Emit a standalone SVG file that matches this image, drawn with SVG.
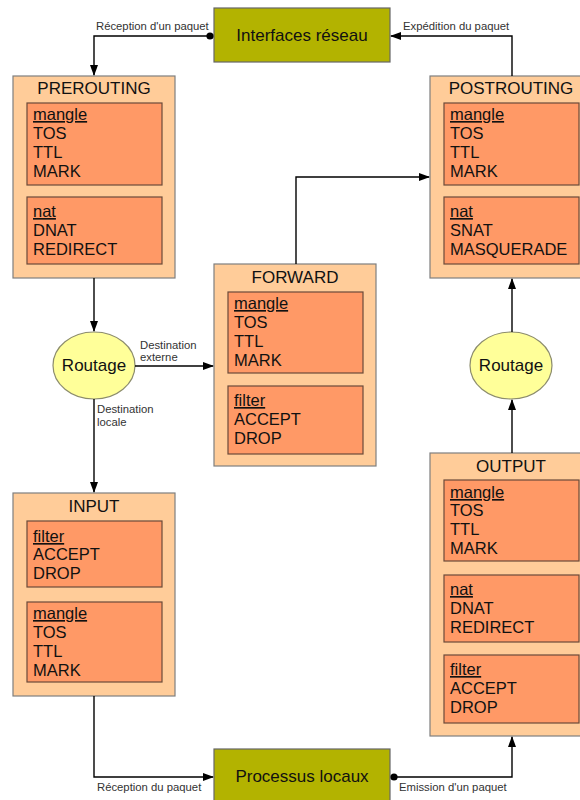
<svg xmlns="http://www.w3.org/2000/svg" width="580" height="800" viewBox="0 0 580 800">
<defs>
<marker id="arr" markerWidth="11" markerHeight="8" refX="10" refY="4" orient="auto" markerUnits="userSpaceOnUse">
<path d="M0,0 L11,4 L0,8 z" fill="#000"/>
</marker>
<marker id="dot" markerWidth="8" markerHeight="8" refX="4" refY="4" markerUnits="userSpaceOnUse">
<circle cx="4" cy="4" r="3.6" fill="#000"/>
</marker>
<style>
.chain{fill:#ffcc99;stroke:#7f7f7f;stroke-width:1.2}
.table{fill:#ff9966;stroke:#6b4a3a;stroke-width:1.2}
.io{fill:#b3b300;stroke:#666;stroke-width:1.2}
.rt{fill:#ffff99;stroke:#8c8c6c;stroke-width:1.2}
text{font-family:"Liberation Sans",Arial,sans-serif;fill:#111}
.t{font-size:17px;text-anchor:middle}
.c{font-size:16.5px}
.h{text-decoration:underline}
.lbl{font-size:11.3px;fill:#333}
.con{fill:none;stroke:#000;stroke-width:1.4}
</style>
</defs>
<g id="interfaces">
<rect class="io" x="214" y="8" width="176" height="54"/>
<text class="t" x="302" y="41">Interfaces réseau</text>
</g>
<g id="processus">
<rect class="io" x="214" y="749" width="176" height="56"/>
<text class="t" x="302" y="782">Processus locaux</text>
</g>
<g id="prerouting">
<rect class="chain" x="13" y="76" width="162" height="202"/>
<text class="t" x="94" y="94">PREROUTING</text>
<rect class="table" x="27" y="103" width="135" height="82"/>
<text class="c h" x="33" y="120">mangle</text>
<text class="c" x="33" y="139">TOS</text>
<text class="c" x="33" y="158">TTL</text>
<text class="c" x="33" y="177">MARK</text>
<rect class="table" x="27" y="197" width="135" height="67"/>
<text class="c h" x="33" y="217">nat</text>
<text class="c" x="33" y="236">DNAT</text>
<text class="c" x="33" y="255">REDIRECT</text>
</g>
<g id="postrouting">
<rect class="chain" x="430" y="76" width="162" height="202"/>
<text class="t" x="511" y="94">POSTROUTING</text>
<rect class="table" x="444" y="103" width="135" height="82"/>
<text class="c h" x="450" y="120">mangle</text>
<text class="c" x="450" y="139">TOS</text>
<text class="c" x="450" y="158">TTL</text>
<text class="c" x="450" y="177">MARK</text>
<rect class="table" x="444" y="197" width="135" height="67"/>
<text class="c h" x="450" y="217">nat</text>
<text class="c" x="450" y="236">SNAT</text>
<text class="c" x="450" y="255">MASQUERADE</text>
</g>
<g id="forward">
<rect class="chain" x="214" y="264" width="162" height="202"/>
<text class="t" x="295" y="283">FORWARD</text>
<rect class="table" x="228" y="292" width="135" height="81"/>
<text class="c h" x="234" y="309">mangle</text>
<text class="c" x="234" y="328">TOS</text>
<text class="c" x="234" y="347">TTL</text>
<text class="c" x="234" y="366">MARK</text>
<rect class="table" x="228" y="386" width="135" height="68"/>
<text class="c h" x="234" y="406">filter</text>
<text class="c" x="234" y="425">ACCEPT</text>
<text class="c" x="234" y="444">DROP</text>
</g>
<g id="input">
<rect class="chain" x="13" y="493" width="162" height="203"/>
<text class="t" x="94" y="512">INPUT</text>
<rect class="table" x="27" y="521" width="135" height="66"/>
<text class="c h" x="33" y="542">filter</text>
<text class="c" x="33" y="560">ACCEPT</text>
<text class="c" x="33" y="579">DROP</text>
<rect class="table" x="27" y="602" width="135" height="80"/>
<text class="c h" x="33" y="619">mangle</text>
<text class="c" x="33" y="638">TOS</text>
<text class="c" x="33" y="657">TTL</text>
<text class="c" x="33" y="676">MARK</text>
</g>
<g id="output">
<rect class="chain" x="430" y="453" width="162" height="283"/>
<text class="t" x="511" y="472">OUTPUT</text>
<rect class="table" x="444" y="480" width="135" height="81"/>
<text class="c h" x="450" y="498">mangle</text>
<text class="c" x="450" y="516">TOS</text>
<text class="c" x="450" y="535">TTL</text>
<text class="c" x="450" y="554">MARK</text>
<rect class="table" x="444" y="575" width="135" height="67"/>
<text class="c h" x="450" y="595">nat</text>
<text class="c" x="450" y="614">DNAT</text>
<text class="c" x="450" y="633">REDIRECT</text>
<rect class="table" x="444" y="655" width="135" height="68"/>
<text class="c h" x="450" y="675">filter</text>
<text class="c" x="450" y="694">ACCEPT</text>
<text class="c" x="450" y="713">DROP</text>
</g>
<g id="routage-in">
<ellipse class="rt" cx="94" cy="365.5" rx="41" ry="33.5"/>
<text class="t" x="94" y="371">Routage</text>
</g>
<g id="routage-out">
<ellipse class="rt" cx="511" cy="365.5" rx="41" ry="33.5"/>
<text class="t" x="511" y="371">Routage</text>
</g>
<g id="connectors">
<path class="con" d="M210,36 H94 V75" marker-start="url(#dot)" marker-end="url(#arr)"/>
<path class="con" d="M512,76 V36 H391" marker-end="url(#arr)"/>
<path class="con" d="M94,278 V331" marker-end="url(#arr)"/>
<path class="con" d="M135,366 H213" marker-end="url(#arr)"/>
<path class="con" d="M94,399 V492" marker-end="url(#arr)"/>
<path class="con" d="M296,264 V177 H429" marker-end="url(#arr)"/>
<path class="con" d="M94,696 V777 H213" marker-end="url(#arr)"/>
<path class="con" d="M394,777 H512 V737" marker-start="url(#dot)" marker-end="url(#arr)"/>
<path class="con" d="M512,453 V400" marker-end="url(#arr)"/>
<path class="con" d="M512,332 V279" marker-end="url(#arr)"/>
<text class="lbl" x="96" y="30">Réception d'un paquet</text>
<text class="lbl" x="403" y="30">Expédition du paquet</text>
<text class="lbl" x="140" y="349">Destination</text>
<text class="lbl" x="140" y="361">externe</text>
<text class="lbl" x="97" y="413">Destination</text>
<text class="lbl" x="97" y="426">locale</text>
<text class="lbl" x="97" y="791">Réception du paquet</text>
<text class="lbl" x="399" y="791">Emission d'un paquet</text>
</g>
</svg>
